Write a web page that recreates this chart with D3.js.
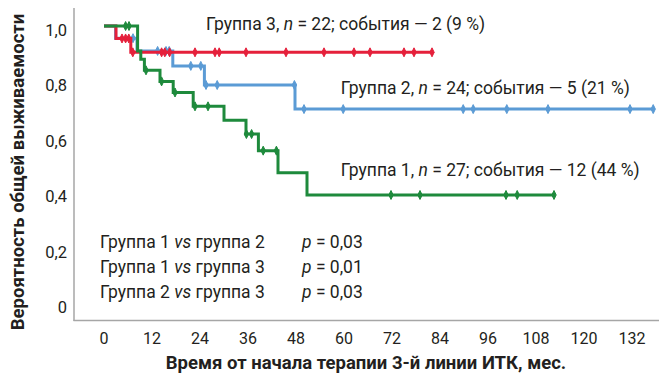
<!DOCTYPE html>
<html>
<head>
<meta charset="utf-8">
<script src="https://cdn.jsdelivr.net/npm/d3@7"></script>
<style>
  html, body { margin: 0; padding: 0; background: #fff; }
  svg { display: block; }
  text { font-family: Roboto, "Noto Sans", sans-serif; fill: #231f20; }
</style>
</head>
<body>
<svg id="chart" width="659" height="380"></svg>
<script>
// Kaplan–Meier step data: event times (months) and survival after each step
const group1Times = [0, 8.4, 9.2, 10.1, 14, 17.3, 22.3, 30, 35.5, 38.6, 43.5, 50.75];
const group1Surv  = [1, 0.91, 0.88, 0.84, 0.80, 0.76, 0.71, 0.66, 0.61, 0.55, 0.47, 0.39];
const group1End = 112.5;
const group1Censor = [5.4, 6.25, 10.5, 14.4, 17.75, 22.75, 26, 35.6, 36.9, 39.8, 43.1, 71.75, 79, 100.5, 103.3, 112.5];

const group2Times = [0, 2.9, 8.25, 17.2, 25.1, 47.75];
const group2Surv  = [1, 0.956, 0.91, 0.856, 0.787, 0.70];
const group2End = 137.5;
const group2Censor = [7.25, 13.4, 15.5, 16.3, 21.7, 24.2, 25.5, 28.3, 47.6, 50, 59.8, 89.8, 92.3, 100.7, 111, 131.5, 137.3];

const group3Times = [0, 3.0, 6.7];
const group3Surv  = [1, 0.955, 0.905];
const group3End = 82;
const group3Censor = [4.5, 5.4, 6.2, 7.2, 14.4, 15.2, 16.4, 22.75, 27.75, 28.8, 35.5, 45.5, 55, 62.5, 66.5, 75, 77.5, 82];

const xTicks = [0, 12, 24, 36, 48, 60, 72, 84, 96, 108, 120, 132];
const yTicks = [0, 0.2, 0.4, 0.6, 0.8, 1.0];
const yTickLabels = ["0", "0,2", "0,4", "0,6", "0,8", "1,0"];

const groupLabels = [
  { name: "Группа 3, ", n: "22", rest: "; события — 2 (9 %)", t: 25.5, v: 1.007 },
  { name: "Группа 2, ", n: "24", rest: "; события — 5 (21 %)", t: 59.2, v: 0.775 },
  { name: "Группа 1, ", n: "27", rest: "; события — 12 (44 %)", t: 59.2, v: 0.48 }
];
const comparisons = ["Группа 1 ", "Группа 1 ", "Группа 2 "];
const comparisonTargets = [" группа 2", " группа 3", " группа 3"];
const pValues = ["0,03", "0,01", "0,03"];

const colors = { g1: "#1e8a3c", g2: "#5b9bd5", g3: "#e5203b" };

const svg = d3.select("#chart");
const x = d3.scaleLinear().domain([0, 132]).range([104, 632]);
const y = d3.scaleLinear().domain([0, 1]).range([303, 26]);

// axis frame
svg.append("line").attr("x1", 74).attr("x2", 74).attr("y1", 8).attr("y2", 321)
  .attr("stroke", "#a6a6a6").attr("stroke-width", 1.5);
svg.append("line").attr("x1", 73.5).attr("x2", 659).attr("y1", 320.5).attr("y2", 320.5)
  .attr("stroke", "#a6a6a6").attr("stroke-width", 1.5);

// tick labels
svg.append("g").selectAll("text").data(xTicks).join("text")
  .attr("x", d => x(d)).attr("y", 344)
  .attr("text-anchor", "middle").attr("font-size", 16)
  .text(d => d);
svg.append("g").selectAll("text").data(yTicks).join("text")
  .attr("x", 67).attr("y", d => y(d) + 10)
  .attr("text-anchor", "end").attr("font-size", 16.5)
  .text((d, i) => yTickLabels[i]);

// axis titles
svg.append("text").attr("x", 366).attr("y", 369).attr("text-anchor", "middle")
  .attr("font-size", 18.5).attr("font-weight", "bold")
  .text("Время от начала терапии 3-й линии ИТК, мес.");
svg.append("text").attr("transform", "translate(24,172) rotate(-90)")
  .attr("text-anchor", "middle").attr("font-size", 18.5).attr("font-weight", "bold")
  .text("Вероятность общей выживаемости");

function stepPoints(times, surv, end) {
  const pts = [];
  times.forEach((t, i) => {
    if (i > 0) pts.push([t, surv[i - 1]]);
    pts.push([t, surv[i]]);
  });
  pts.push([end, surv[surv.length - 1]]);
  return pts;
}
function survAt(times, surv, t) {
  let s = surv[0];
  times.forEach((tt, i) => { if (tt <= t) s = surv[i]; });
  return s;
}

const line = d3.line().x(d => x(d[0])).y(d => y(d[1]));
const groups = [
  { times: group2Times, surv: group2Surv, end: group2End, censor: group2Censor, color: colors.g2 },
  { times: group3Times, surv: group3Surv, end: group3End, censor: group3Censor, color: colors.g3 },
  { times: group1Times, surv: group1Surv, end: group1End, censor: group1Censor, color: colors.g1 }
];

groups.forEach(g => {
  const layer = svg.append("g");
  layer.append("path")
    .attr("d", line(stepPoints(g.times, g.surv, g.end)))
    .attr("fill", "none").attr("stroke", g.color).attr("stroke-width", 3)
    .attr("stroke-linejoin", "miter");
  layer.selectAll("path.censor").data(g.censor).join("path")
    .attr("class", "censor")
    .attr("transform", d => `translate(${x(d)},${y(survAt(g.times, g.surv, d))})`)
    .attr("d", "M0,-4.5L2.2,0L0,4.5L-2.2,0Z")
    .attr("fill", g.color).attr("stroke", g.color).attr("stroke-width", 1);
});

// group annotations
groupLabels.forEach(d => {
  const t = svg.append("text").attr("x", x(d.t)).attr("y", y(d.v) + 6).attr("font-size", 17.5);
  t.append("tspan").text(d.name);
  t.append("tspan").attr("font-style", "italic").text("n");
  t.append("tspan").text(" = " + d.n + d.rest);
});

// log-rank comparisons
comparisons.forEach((c, i) => {
  const yy = 248 + i * 25;
  const t = svg.append("text").attr("x", 100).attr("y", yy).attr("font-size", 17.5);
  t.append("tspan").text(c);
  t.append("tspan").attr("font-style", "italic").text("vs");
  t.append("tspan").text(comparisonTargets[i]);
  const p = svg.append("text").attr("x", 302).attr("y", yy).attr("font-size", 17.5);
  p.append("tspan").attr("font-style", "italic").text("p");
  p.append("tspan").text(" = " + pValues[i]);
});
</script>
</body>
</html>
